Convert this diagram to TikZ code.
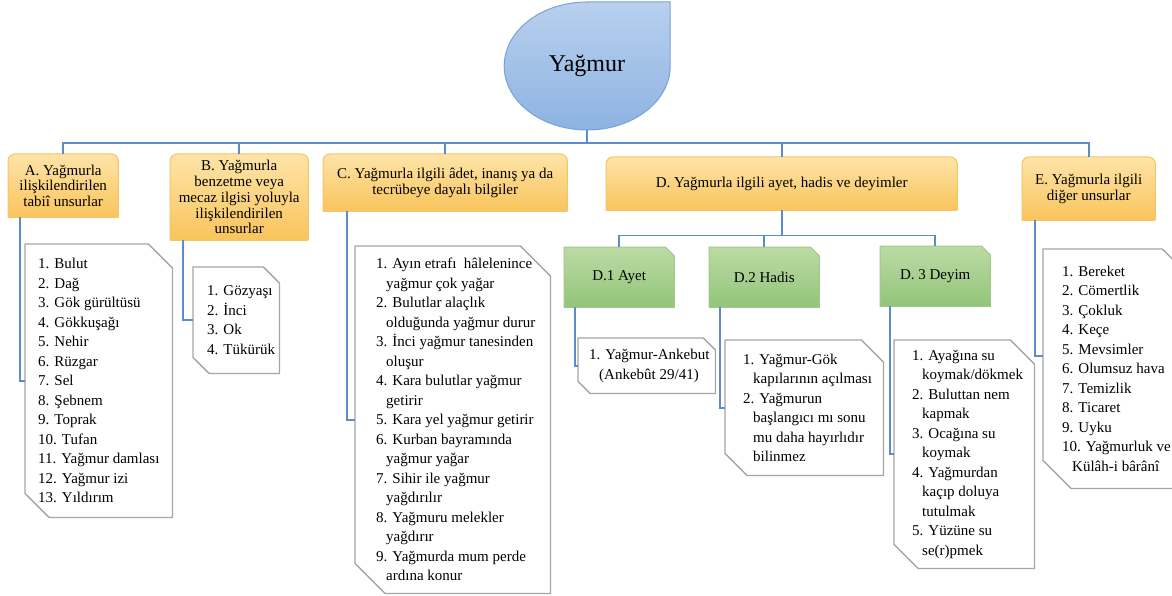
\documentclass[tikz,border=0pt]{standalone}
\usepackage{fontspec}
\setmainfont{Liberation Serif}
\usetikzlibrary{backgrounds}
\definecolor{linkblue}{RGB}{91,141,205}
\definecolor{droptop}{RGB}{185,208,238}
\definecolor{dropbot}{RGB}{141,179,226}
\definecolor{dropline}{RGB}{122,162,214}
\definecolor{hdrtop}{RGB}{254,228,168}
\definecolor{hdrbot}{RGB}{249,196,92}
\definecolor{hdrline}{RGB}{245,196,100}
\definecolor{subtop}{RGB}{188,219,164}
\definecolor{subbot}{RGB}{146,196,122}
\definecolor{subline}{RGB}{160,201,137}
\definecolor{listline}{RGB}{165,165,165}
\newcommand{\listind}{\hspace*{10pt}}

\begin{document}
\begin{tikzpicture}[x=1pt,y=-1pt,
  link/.style={draw=linkblue,line width=1.6pt},
  dropbox/.style={minimum width=166pt,minimum height=128pt,inner sep=0pt,font=\fontsize{24}{28}\selectfont},
  hdrbox/.style={anchor=north west,align=center,inner sep=0pt,font=\fontsize{15}{15.8}\selectfont},
  subbox/.style={anchor=north west,minimum width=110pt,minimum height=60pt,inner sep=0pt,font=\fontsize{15}{18}\selectfont},
  listbox/.style={anchor=north west,inner sep=0pt},
  listtext/.style={anchor=west,align=left,inner sep=0pt,font=\fontsize{15}{19.5}\selectfont},
  hdrfill/.style={top color=hdrtop,bottom color=hdrbot},
  subfill/.style={top color=subtop,bottom color=subbot,draw=subline,line width=1pt},
  listdraw/.style={fill=white,draw=listline,line width=1.3pt}]
  \useasboundingbox (0,0) rectangle (1172,596);

  \node[dropbox] (rain) at (587,66) {Yağmur};

  \node[hdrbox,minimum width=110pt,minimum height=63pt] (ha) at (8,154) {A. Yağmurla\\ilişkilendirilen\\tabiî unsurlar};
  \node[hdrbox,minimum width=138pt,minimum height=86pt] (hb) at (170,154) {B. Yağmurla\\benzetme veya\\mecaz ilgisi yoluyla\\ilişkilendirilen\\unsurlar};
  \node[hdrbox,minimum width=244pt,minimum height=57pt] (hc) at (323,154) {C. Yağmurla ilgili âdet, inanış ya da\\tecrübeye dayalı bilgiler};
  \node[hdrbox,minimum width=351pt,minimum height=53pt] (hd) at (606,157) {D. Yağmurla ilgili ayet, hadis ve deyimler};
  \node[hdrbox,minimum width=133pt,minimum height=63pt] (he) at (1022,157) {E. Yağmurla ilgili\\diğer unsurlar};

  \node[subbox] (d1) at (564,247) {D.1 Ayet};
  \node[subbox] (d2) at (709,247) {D.2 Hadis};
  \node[subbox] (d3) at (880,246) {D. 3 Deyim};

  \node[listbox,minimum width=147pt,minimum height=273pt] (la) at (25,244) {};
  \node[listbox,minimum width=86pt,minimum height=106pt] (lb) at (193,267) {};
  \node[listbox,minimum width=195pt,minimum height=347pt] (lc) at (355,246) {};
  \node[listbox,minimum width=137pt,minimum height=55pt] (l1) at (578,338) {};
  \node[listbox,minimum width=158pt,minimum height=135pt] (l2) at (725,340) {};
  \node[listbox,minimum width=140pt,minimum height=228pt] (l3) at (894,340) {};
  \node[listbox,minimum width=147pt,minimum height=239pt] (le) at (1043,249) {};

  \node[listtext] (ta) at ([xshift=13pt]la.west) {1. Bulut\\2. Dağ\\3. Gök gürültüsü\\4. Gökkuşağı\\5. Nehir\\6. Rüzgar\\7. Sel\\8. Şebnem\\9. Toprak\\10. Tufan\\11. Yağmur damlası\\12. Yağmur izi\\13. Yıldırım};
  \node[listtext] (tb) at ([xshift=14pt]lb.west) {1. Gözyaşı\\2. İnci\\3. Ok\\4. Tükürük};
  \node[listtext] (tc) at ([xshift=21pt]lc.west) {1. Ayın etrafı\ \ hâlelenince\\\listind yağmur çok yağar\\2. Bulutlar alaçlık\\\listind olduğunda yağmur durur\\3. İnci yağmur tanesinden\\\listind oluşur\\4. Kara bulutlar yağmur\\\listind getirir\\5. Kara yel yağmur getirir\\6. Kurban bayramında\\\listind yağmur yağar\\7. Sihir ile yağmur\\\listind yağdırılır\\8. Yağmuru melekler\\\listind yağdırır\\9. Yağmurda mum perde\\\listind ardına konur};
  \node[listtext] (t1) at ([xshift=11pt]l1.west) {1. Yağmur-Ankebut\\\listind (Ankebût 29/41)};
  \node[listtext] (t2) at ([xshift=18pt]l2.west) {1. Yağmur-Gök\\\listind kapılarının açılması\\2. Yağmurun\\\listind başlangıcı mı sonu\\\listind mu daha hayırlıdır\\\listind bilinmez};
  \node[listtext] (t3) at ([xshift=18pt]l3.west) {1. Ayağına su\\\listind koymak/dökmek\\2. Buluttan nem\\\listind kapmak\\3. Ocağına su\\\listind koymak\\4. Yağmurdan\\\listind kaçıp doluya\\\listind tutulmak\\5. Yüzüne su\\\listind se(r)pmek};
  \node[listtext] (te) at ([xshift=19pt]le.west) {1. Bereket\\2. Cömertlik\\3. Çokluk\\4. Keçe\\5. Mevsimler\\6. Olumsuz hava\\7. Temizlik\\8. Ticaret\\9. Uyku\\10. Yağmurluk ve\\\listind Külâh-i bârânî};

  \draw[link] (rain.south) -- ++(0,13) coordinate (bus);
  \foreach \h in {ha,hb,hc,hd,he}
    \draw[link] (bus) -| (\h.north);
  \draw[link] (hd.south) -- ++(0,25) coordinate (dbus);
  \foreach \d in {d1,d2,d3}
    \draw[link] (dbus) -| (\d.north);

  \draw[link] ([xshift=12pt]ha.south west) |- (la.west);
  \draw[link] ([xshift=13pt]hb.south west) |- (lb.west);
  \draw[link] ([xshift=24pt]hc.south west) |- (lc.west);
  \draw[link] ([xshift=11pt]d1.south west) |- (l1.west);
  \draw[link] ([xshift=11pt]d2.south west) |- (l2.west);
  \draw[link] ([xshift=10pt]d3.south west) |- (l3.west);
  \draw[link] ([xshift=13pt]he.south west) |- ([yshift=13pt]le.west);

  \begin{scope}[on background layer]
    \shade[top color=droptop,bottom color=dropbot,draw=dropline,line width=1pt]
      (rain.north) -- (rain.north east) -- (rain.east)
      arc[start angle=0,end angle=-270,x radius=83pt,y radius=64pt] -- cycle;
    \foreach \h in {ha,hb,hc,hd,he} {
      \shade[hdrfill,rounded corners=7pt] (\h.south west) -- (\h.north west) -- (\h.north east) -- (\h.south east);
      \draw[hdrline,line width=1pt,rounded corners=7pt] (\h.south west) -- (\h.north west) -- (\h.north east) -- (\h.south east);
      \draw[hdrline,line width=1pt] (\h.south west) -- (\h.south east);
    }
    \foreach \d in {d1,d2,d3}
      \shade[subfill] (\d.south west) -- (\d.north west) -- ([xshift=-9pt]\d.north east)
        -- ([yshift=-9pt]\d.north east) -- (\d.south east) -- cycle;
    \foreach \n/\c in {la/24,lb/16,lc/30,l1/12,l2/22,l3/24,le/28}
      \draw[listdraw] (\n.north west) -- ([xshift=-\c pt]\n.north east) -- ([yshift=-\c pt]\n.north east)
        -- (\n.south east) -- ([xshift=\c pt]\n.south west) -- ([yshift=\c pt]\n.south west) -- cycle;
  \end{scope}
\end{tikzpicture}
\end{document}
